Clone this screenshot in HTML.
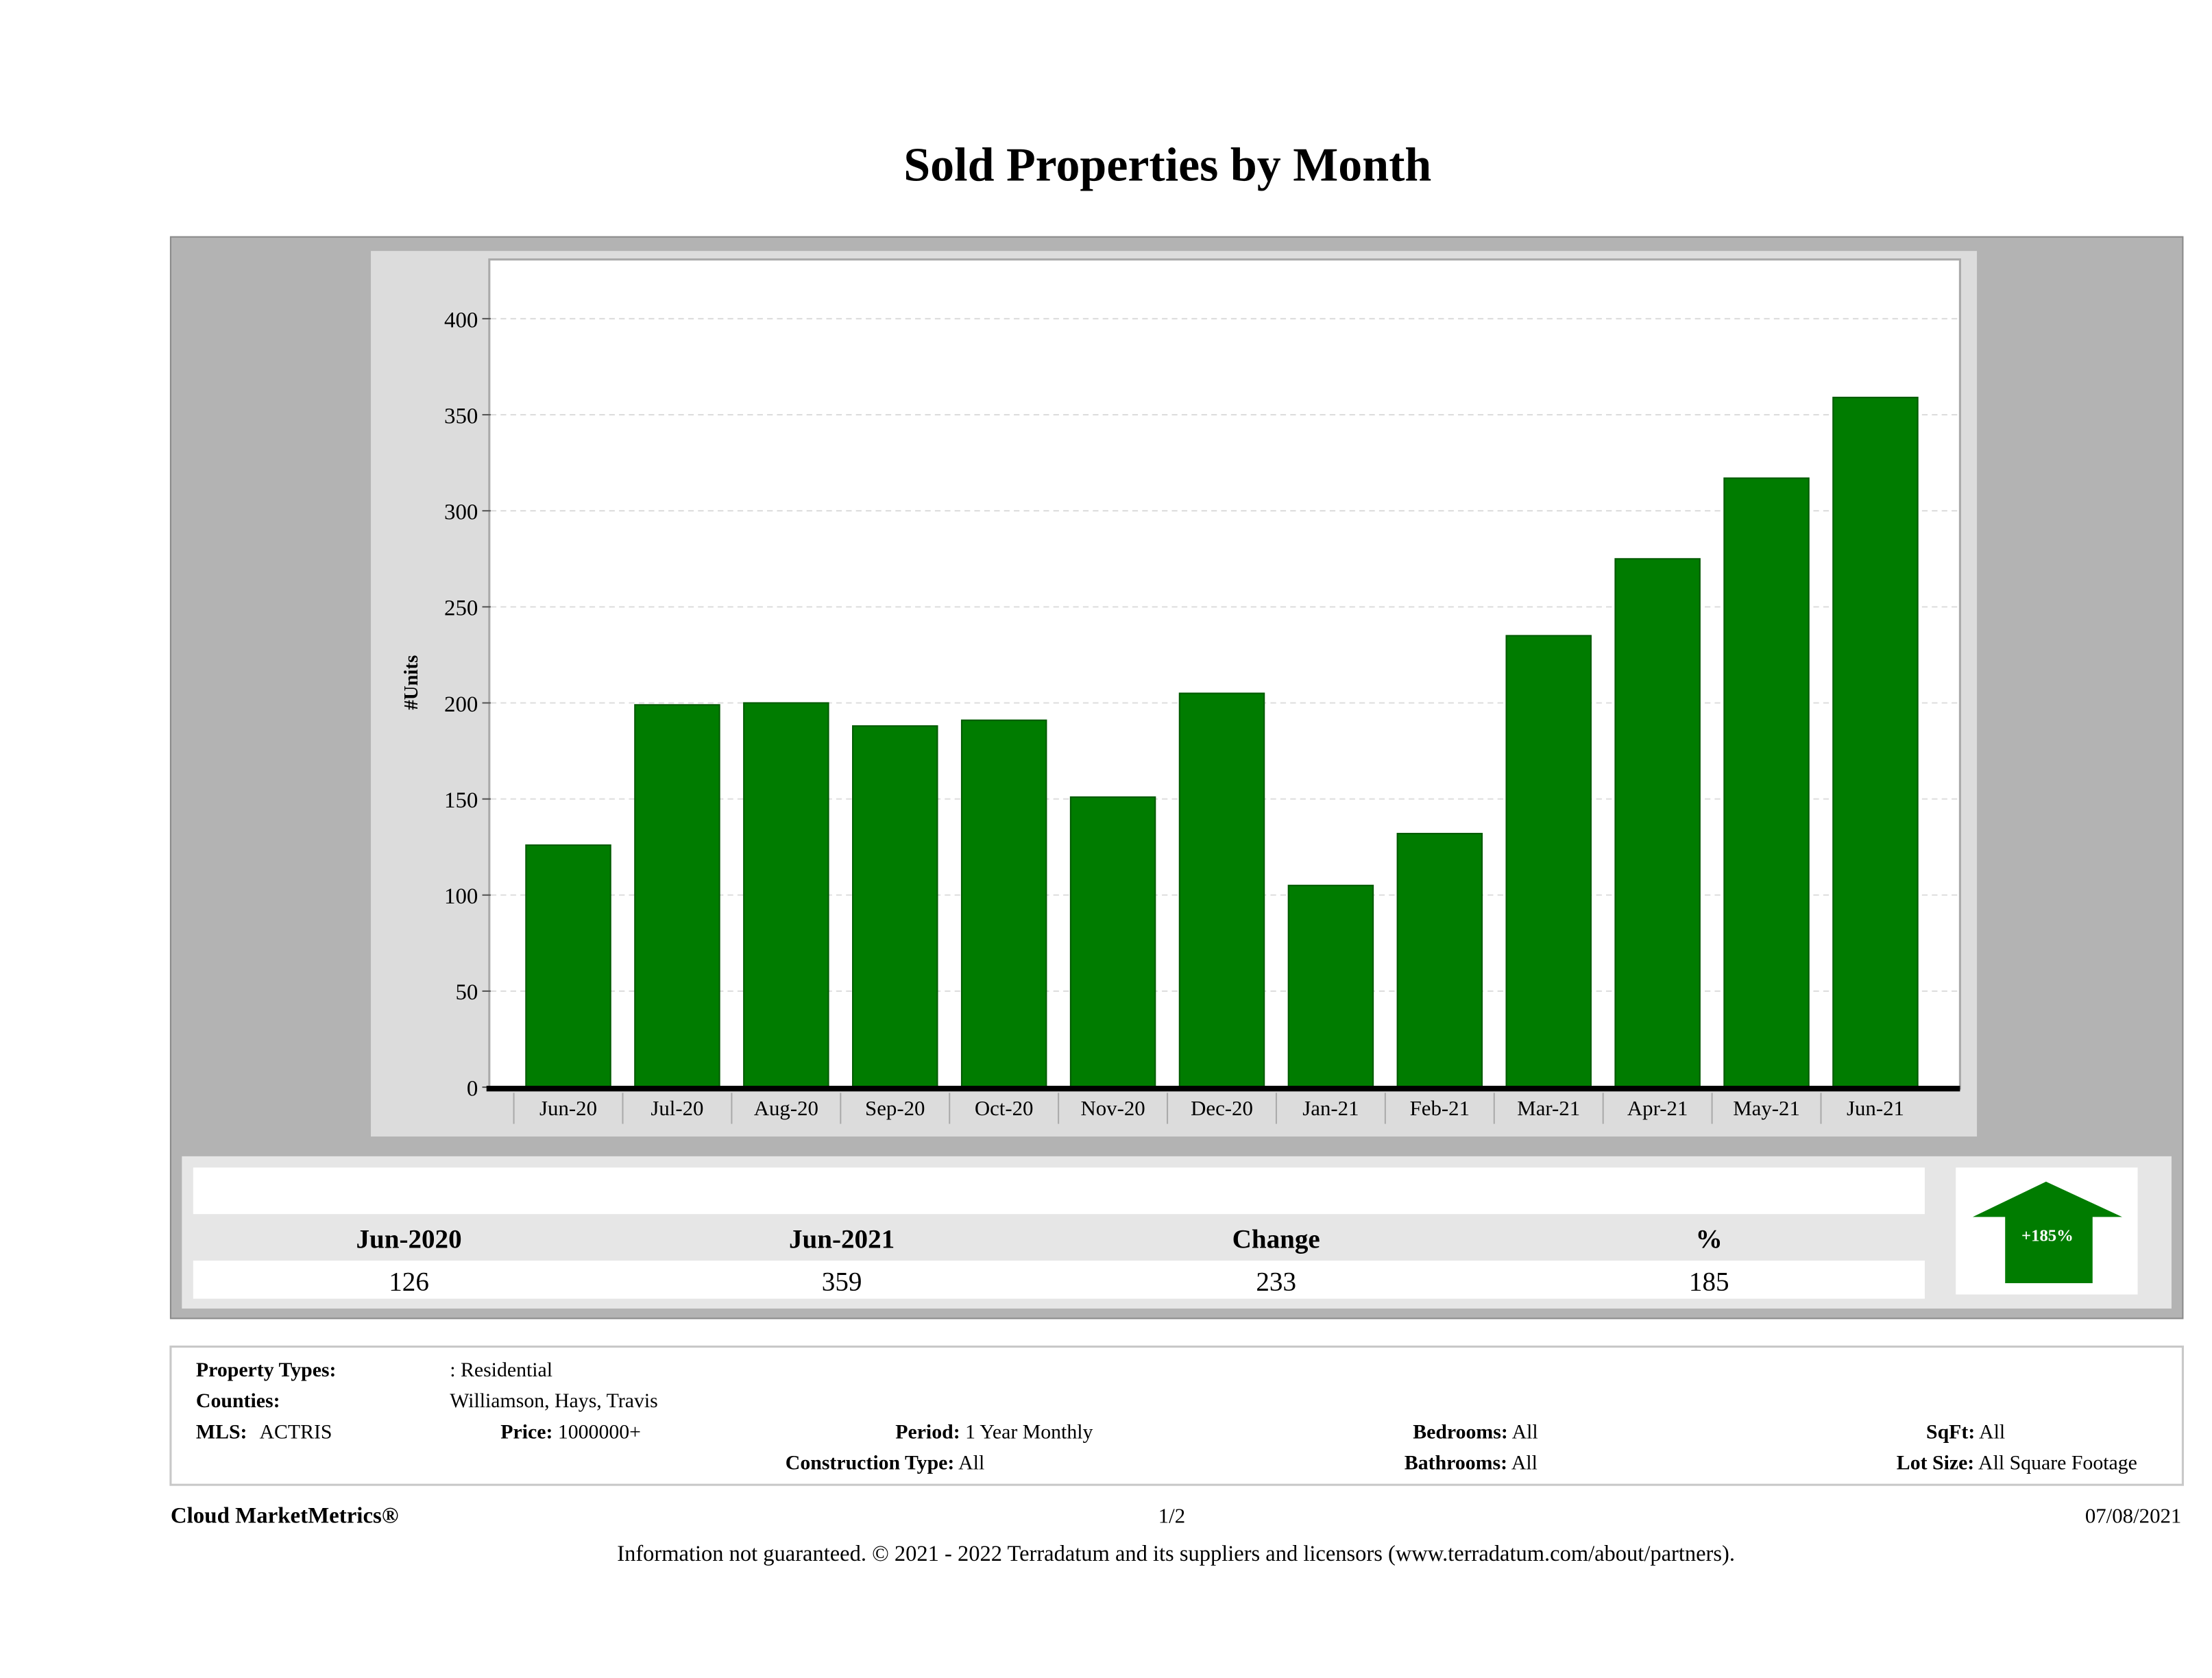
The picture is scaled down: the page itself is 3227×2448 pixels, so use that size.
<!DOCTYPE html>
<html><head><meta charset="utf-8"><style>
html,body{margin:0;padding:0;background:#fff}
svg{display:block;font-family:"Liberation Serif",serif}
</style></head><body>
<svg id="chart" width="3227" height="2448" viewBox="0 0 1568.7 1190" preserveAspectRatio="none" xmlns="http://www.w3.org/2000/svg">
<text x="828" y="128" text-anchor="middle" font-size="34" font-weight="bold">Sold Properties by Month</text>
<rect x="121" y="168" width="1427" height="767" fill="#b3b3b3" stroke="#8a8a8a" stroke-width="1"/>
<rect x="263" y="178" width="1139" height="628" fill="#dcdcdc"/>
<rect x="347" y="184" width="1043" height="588" fill="#fff" stroke="#aaa" stroke-width="1.5"/>
<g id="grid"></g>
<g id="bars"></g>
<g id="axes"></g>
<text transform="translate(296,484) rotate(-90)" text-anchor="middle" font-size="14" font-weight="bold">#Units</text>

<rect x="129" y="820" width="1411" height="108" fill="#e6e6e6"/>
<rect x="137" y="828" width="1228" height="33" fill="#fff"/>
<rect x="137" y="894" width="1228" height="27" fill="#fff"/>
<g font-size="19" font-weight="bold" text-anchor="middle">
<text x="290" y="885">Jun-2020</text>
<text x="597" y="885">Jun-2021</text>
<text x="905" y="885">Change</text>
<text x="1212" y="885">%</text>
</g>
<g font-size="19" text-anchor="middle">
<text x="290" y="915">126</text>
<text x="597" y="915">359</text>
<text x="905" y="915">233</text>
<text x="1212" y="915">185</text>
</g>
<rect x="1387" y="828" width="129" height="90" fill="#fff"/>
<polygon points="1399,863 1451,838 1505,863 1484,863 1484,910 1422,910 1422,863" fill="#007c00"/>
<text x="1452" y="880" text-anchor="middle" font-size="12" font-weight="bold" fill="#fff">+185%</text>

<rect x="121" y="955" width="1427" height="98" fill="#fff" stroke="#c8c8c8" stroke-width="1.5"/>
<g font-size="14.5">
<text x="139" y="976" font-weight="bold">Property Types:</text>
<text x="319" y="976">: Residential</text>
<text x="139" y="998" font-weight="bold">Counties:</text>
<text x="319" y="998">Williamson, Hays, Travis</text>
<text x="139" y="1020"><tspan font-weight="bold">MLS:</tspan><tspan x="184">ACTRIS</tspan></text>
<text x="355" y="1020"><tspan font-weight="bold">Price:</tspan> 1000000+</text>
<text x="635" y="1020"><tspan font-weight="bold">Period:</tspan> 1 Year Monthly</text>
<text x="557" y="1042"><tspan font-weight="bold">Construction Type:</tspan> All</text>
<text x="1002" y="1020"><tspan font-weight="bold">Bedrooms:</tspan> All</text>
<text x="996" y="1042"><tspan font-weight="bold">Bathrooms:</tspan> All</text>
<text x="1366" y="1020"><tspan font-weight="bold">SqFt:</tspan> All</text>
<text x="1345" y="1042"><tspan font-weight="bold">Lot Size:</tspan> All Square Footage</text>
</g>
<text x="121" y="1080" font-size="16" font-weight="bold">Cloud MarketMetrics®</text>
<text x="831" y="1080" font-size="15" text-anchor="middle">1/2</text>
<text x="1547" y="1080" font-size="15" text-anchor="end">07/08/2021</text>
<text x="834" y="1107" font-size="15.8" text-anchor="middle">Information not guaranteed. © 2021 - 2022 Terradatum and its suppliers and licensors (www.terradatum.com/about/partners).</text>
</svg>
<script>
const categories=["Jun-20","Jul-20","Aug-20","Sep-20","Oct-20","Nov-20","Dec-20","Jan-21","Feb-21","Mar-21","Apr-21","May-21","Jun-21"];
const values=[126,199,200,188,191,151,205,105,132,235,275,317,359];
const yTicks=[0,50,100,150,200,250,300,350,400];
const NS="http://www.w3.org/2000/svg";
const y0=771,yPer=(771-226)/400;
function yScale(v){return y0-v*yPer;}
const xStart=403,xStep=(1330-403)/12,barW=60;
function xScale(i){return xStart+i*xStep;}
function mk(tag,attrs,parent){const e=document.createElementNS(NS,tag);for(const k in attrs)e.setAttribute(k,attrs[k]);parent.appendChild(e);return e;}
const grid=document.getElementById('grid'),bars=document.getElementById('bars'),axes=document.getElementById('axes');
yTicks.forEach(t=>{
  const y=yScale(t);
  if(t>0){const g=mk('line',{x1:348,x2:1389,y1:y,y2:y,stroke:'#ddd','stroke-dasharray':'4,3'},grid);
  
  }
  const tk=mk('line',{x1:342,x2:348,y1:y,y2:y,stroke:'#555'},axes);
  
  
  const tx=mk('text',{x:339,y:y+6,'text-anchor':'end','font-size':16},axes);
  tx.textContent=t;
  
  
});
values.forEach((v,i)=>{
  const cx=xScale(i);
  const r=mk('rect',{x:cx-barW/2,y:yScale(v),width:barW,height:y0-yScale(v),fill:'#007c00',stroke:'#005a00','stroke-width':1},bars);
  
  
  const l=mk('text',{x:cx,y:791,'text-anchor':'middle','font-size':15},axes);
  l.textContent=categories[i];
  
  
  const s=mk('line',{x1:cx-xStep/2,x2:cx-xStep/2,y1:775,y2:797,stroke:'#aaa'},axes);
  
  
});
const ax=mk('line',{x1:345,x2:1390,y1:772,y2:772,stroke:'#000','stroke-width':4},axes);


</script>
</body></html>
